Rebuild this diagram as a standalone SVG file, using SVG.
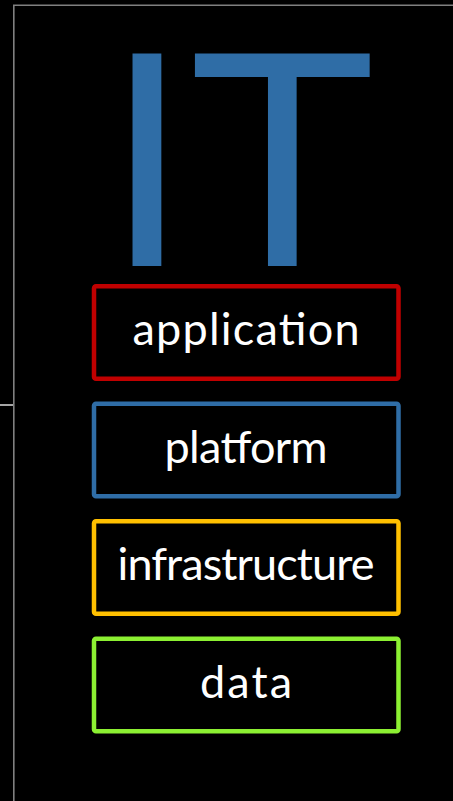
<svg xmlns="http://www.w3.org/2000/svg" width="453" height="801" viewBox="0 0 453 801">
  <style>
    .frame { stroke: #808080; stroke-width: 1.6; fill: none; }
    .layer rect { fill: #000; stroke-width: 4.5; }
    .layer text { font-family: "Lato", "Liberation Sans", sans-serif; font-weight: 400; font-size: 45px; fill: #fff; text-anchor: middle; }
    .title { font-family: "Liberation Sans", Arial, sans-serif; font-size: 309px; fill: #2F6DA6; }
  </style>
  <rect width="453" height="801" fill="#000"/>

  <!-- frame lines -->
  <g id="frame">
    <path class="frame" d="M13.8 801 V5.2 H453"/>
    <path d="M0 405 H13" stroke="#d0d0d0" stroke-width="1.6"/>
  </g>

  <!-- heading -->
  <g id="heading">
    <text class="title" y="266"><tspan x="104">I</tspan><tspan x="188">T</tspan></text>
  </g>

  <!-- layer boxes -->
  <g id="application" class="layer">
    <rect x="94" y="286.2" width="304.5" height="92.5" rx="2" stroke="#C00000"/>
    <text x="246" y="345" textLength="227">application</text>
  </g>
  <g id="platform" class="layer">
    <rect x="94" y="403.7" width="304.5" height="92.5" rx="2" stroke="#2F6DA6"/>
    <text x="246" y="462.5" textLength="163">platform</text>
  </g>
  <g id="infrastructure" class="layer">
    <rect x="94" y="521.2" width="304.5" height="92.5" rx="2" stroke="#FFC000"/>
    <text x="246" y="580" textLength="257">infrastructure</text>
  </g>
  <g id="data" class="layer">
    <rect x="94" y="638.7" width="304.5" height="92.5" rx="2" stroke="#8CF032"/>
    <text x="246" y="697.5" textLength="92">data</text>
  </g>
</svg>
